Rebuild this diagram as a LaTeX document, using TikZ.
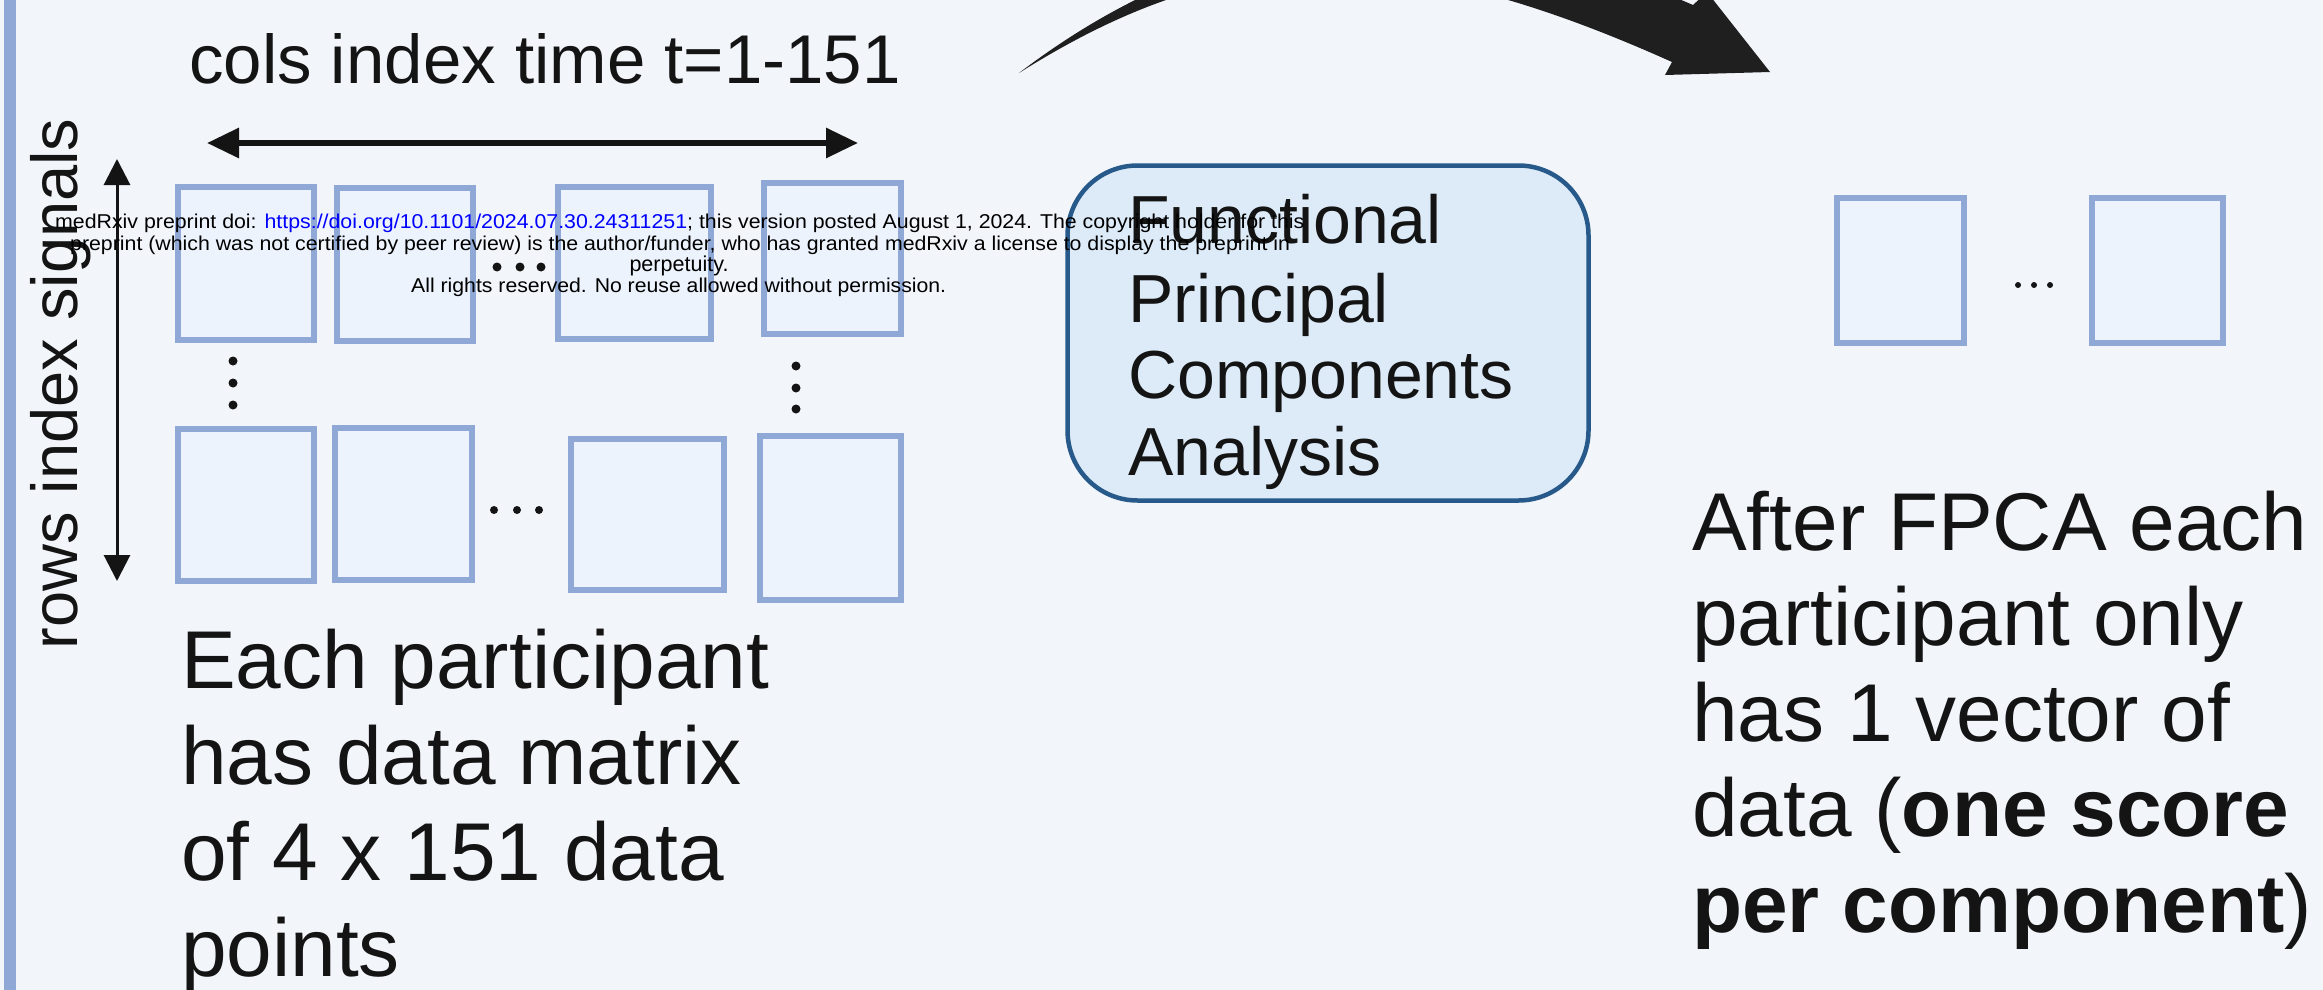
\documentclass[tikz,border=0pt]{standalone}
\usepackage{fontspec}
\setmainfont{Liberation Sans}
\usepackage{graphicx}
\usetikzlibrary{arrows.meta}
\definecolor{bg}{RGB}{242,245,250}
\definecolor{cellline}{RGB}{143,168,214}
\definecolor{cellfill}{RGB}{237,243,252}
\definecolor{fpcaline}{RGB}{39,90,138}
\definecolor{fpcafill}{RGB}{221,235,248}
\definecolor{ink}{RGB}{20,20,20}
\definecolor{arrowink}{RGB}{31,31,31}
\definecolor{linkblue}{RGB}{0,0,255}
\begin{document}
\begin{tikzpicture}[x=1pt,y=-1pt,
  cell/.style={draw=cellline, fill=cellfill, line width=6pt, inner sep=0pt, rectangle},
  txt/.style={anchor=base west, inner sep=0pt, text=ink},
  bigtxt/.style={txt, font=\fontsize{82}{96}\selectfont},
  boxtxt/.style={txt, font=\fontsize{68}{77}\selectfont},
  wm/.style={anchor=base west, inner sep=0pt, text=black},
  dotfill/.style={fill=ink}
]
\useasboundingbox (0,0) rectangle (2323,990);
\fill[bg] (0,0) rectangle (2323,990);
% left bar
\fill[cellline] (4,0) rectangle (16,990);

% matrix cells, top row
\node[cell, minimum width=136pt, minimum height=153pt] (b1) at (246,263.5) {};
\node[cell, minimum width=136pt, minimum height=153pt] (b2) at (405,264.5) {};
\node[cell, minimum width=153pt, minimum height=152pt] (b3) at (634.5,263) {};
\node[cell, minimum width=137pt, minimum height=151pt] (b4) at (832.5,258.5) {};
% bottom row
\node[cell, minimum width=136pt, minimum height=152pt] (c1) at (246,505) {};
\node[cell, minimum width=137pt, minimum height=152pt] (c2) at (403.5,504) {};
\node[cell, minimum width=153pt, minimum height=151pt] (c3) at (647.5,514.5) {};
\node[cell, minimum width=141pt, minimum height=164pt] (c4) at (830.5,518) {};

% dots
\foreach \x in {497,520,541} \fill[dotfill] (\x,267) circle (4.5);
\foreach \x in {494,517,539} \fill[dotfill] (\x,510) circle (4);
\foreach \y in {361,383,405} \fill[dotfill] (233,\y) circle (4.5);
\foreach \y in {366,388,409} \fill[dotfill] (796,\y) circle (4.5);

% axis arrows
\coordinate (hL) at (207,143);
\coordinate (hR) at (858,143);
\draw[ink, line width=6pt, {Triangle[length=32pt 0 0, width=29pt 0 0]}-{Triangle[length=32pt 0 0, width=29pt 0 0]}] (hL) -- (hR);
\coordinate (vT) at (117,159);
\coordinate (vB) at (117,581);
\draw[ink, line width=3pt, {Triangle[length=26pt 0 0, width=26pt 0 0]}-{Triangle[length=26pt 0 0, width=26pt 0 0]}] (vT) -- (vB);

% labels
\node[txt, font=\fontsize{69}{80}\selectfont] (cols) at (189,83) {cols index time t=1-151};
\node[anchor=base, inner sep=0pt, rotate=90, text=ink, font=\fontsize{65}{78}\selectfont] (rows) at (77,384) {rows index signals};

\node[bigtxt] (l1) at (181,688) {Each participant};
\node[bigtxt] (l2) at (181,784) {has data matrix};
\node[bigtxt] (l3) at (181,880) {of 4 x 151 data};
\node[bigtxt] (l4) at (181,976) {points};

% FPCA box
\node[draw=fpcaline, fill=fpcafill, line width=4.5pt, rounded corners=70pt, minimum width=521pt, minimum height=335pt, inner sep=0pt] (fpca) at (1328,333) {};
\node[boxtxt] (f1) at (1128,243) {Functional};
\node[boxtxt] (f2) at (1128,322) {Principal};
\node[boxtxt] (f3) at (1128,398) {Components};
\node[boxtxt] (f4) at (1128,475) {Analysis};

% result vector
\node[cell, minimum width=127pt, minimum height=145pt] (r1) at (1900.5,270.5) {};
\node[cell, minimum width=131pt, minimum height=145pt] (r2) at (2157.5,270.5) {};
\foreach \x in {2018,2034,2050} \fill[dotfill] (\x,285) circle (3);

\node[bigtxt] (a1) at (1692,550) {After FPCA each};
\node[bigtxt] (a2) at (1692,645.5) {participant only};
\node[bigtxt] (a3) at (1692,741) {has 1 vector of};
\node[bigtxt] (a4) at (1692,836.5) {data (\textbf{one score}};
\node[bigtxt] (a5) at (1692,932) {\textbf{per component})};

% curved arrow
\begin{scope}
\clip (0,0) rectangle (2323,990);
\fill[arrowink] (1019,73) .. controls (1220,-80) and (1440,-105) .. (1693,5)
  -- (1707,-8) -- (1770,72) -- (1665,75) -- (1672,62)
  .. controls (1400,-60) and (1230,-60) .. (1019,73) -- cycle;
\end{scope}

% preprint notice
\node[wm] (wm1) at (55,228) {\resizebox{1249pt}{14.5pt}{medRxiv preprint doi: \textcolor{linkblue}{https://doi.org/10.1101/2024.07.30.24311251}; this version posted August 1, 2024. The copyright holder for this}};
\node[wm] (wm2) at (70,250) {\resizebox{1220pt}{14.5pt}{preprint (which was not certified by peer review) is the author/funder, who has granted medRxiv a license to display the preprint in}};
\node[anchor=base, inner sep=0pt, text=black] (wm3) at (679,271.5) {\resizebox{99pt}{!}{perpetuity.}};
\node[wm] (wm4) at (411,292.5) {\resizebox{535pt}{14.5pt}{All rights reserved. No reuse allowed without permission.}};
\end{tikzpicture}
\end{document}
